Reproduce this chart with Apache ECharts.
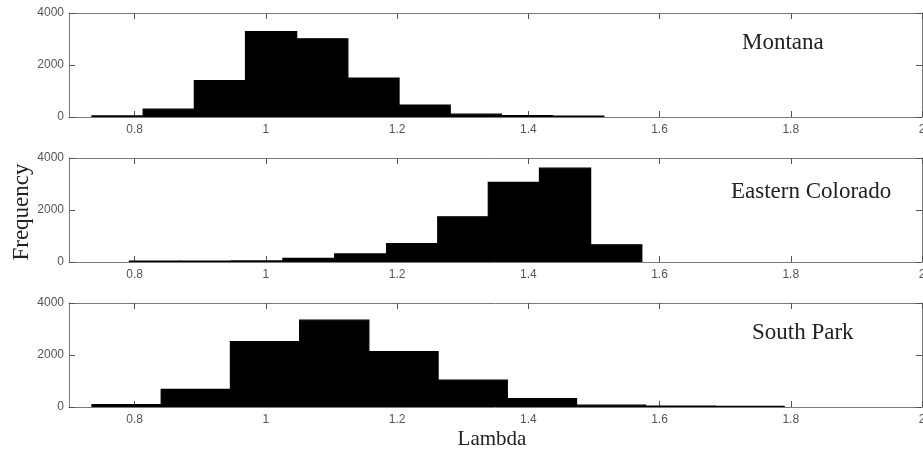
<!DOCTYPE html>
<html>
<head>
<meta charset="utf-8">
<script src="https://cdn.jsdelivr.net/npm/echarts@6/dist/echarts.min.js"></script>
<style>
html,body{margin:0;padding:0;background:#fff;}
#chart{width:923px;height:451px;}
</style>
</head>
<body>
<div id="chart"></div>
<script>
// ---- data ----
const regions = ['Montana', 'Eastern Colorado', 'South Park'];

const montanaEdges = [0.735, 0.813, 0.891, 0.969, 1.047, 1.125, 1.203, 1.281, 1.359, 1.437, 1.515];
const montanaCounts = [40, 300, 1400, 3280, 3010, 1500, 460, 110, 50, 30];

const coloradoEdges = [0.792, 0.870, 0.948, 1.026, 1.105, 1.184, 1.262, 1.339, 1.417, 1.495, 1.573];
const coloradoCounts = [30, 30, 40, 140, 310, 710, 1740, 3060, 3610, 660];

const southParkEdges = [0.735, 0.8405, 0.946, 1.0515, 1.157, 1.2625, 1.368, 1.4735, 1.579, 1.6845, 1.790];
const southParkCounts = [90, 680, 2520, 3340, 2130, 1030, 320, 70, 30, 25];

const xTicks = [0.8, 1, 1.2, 1.4, 1.6, 1.8, 2];
const yTicks = [0, 2000, 4000];
const xMin = 0.7, xMax = 2.0;
const yMin = 0, yMax = 4000;

const xTitle = 'Lambda';
const yTitle = 'Frequency';

// ---- layout ----
const panelTops = [13, 158, 303];
const panelHeight = 104;
const gridLeft = 69;
const gridRight = 1;

const edgeSets = [montanaEdges, coloradoEdges, southParkEdges];
const countSets = [montanaCounts, coloradoCounts, southParkCounts];

const axisColor = '#7a7a7a';
const labelColor = '#555';
const serif = '"Liberation Serif", "DejaVu Serif", serif';
const sans = '"Liberation Sans", Arial, sans-serif';

function fmtX(v) { return String(Math.round(v * 10) / 10); }
function fmtY(v) { return String(Math.round(v)); }

const grids = [], xAxes = [], yAxes = [], series = [], titles = [];
const titlePos = [[742, 31], [731, 180], [752, 321]];

panelTops.forEach((top, i) => {
  grids.push({ left: gridLeft, right: gridRight, top: top, height: panelHeight,
               containLabel: false, outerBoundsMode: 'none' });
  xAxes.push({
    type: 'value', gridIndex: i, position: 'bottom', min: xMin, max: xMax,
    splitLine: { show: false },
    axisLine: { show: true, onZero: false, lineStyle: { color: axisColor, width: 1 } },
    axisTick: { show: true, inside: true, length: 6, customValues: xTicks, lineStyle: { color: '#555' } },
    axisLabel: { show: true, customValues: xTicks, formatter: fmtX, color: labelColor, fontFamily: sans, fontSize: 12, margin: 7 }
  });
  xAxes.push({
    type: 'value', gridIndex: i, position: 'top', min: xMin, max: xMax,
    splitLine: { show: false },
    axisLine: { show: true, onZero: false, lineStyle: { color: axisColor, width: 1 } },
    axisTick: { show: true, inside: true, length: 6, customValues: xTicks, lineStyle: { color: '#555' } },
    axisLabel: { show: false }
  });
  yAxes.push({
    type: 'value', gridIndex: i, position: 'left', min: yMin, max: yMax,
    splitLine: { show: false },
    axisLine: { show: true, onZero: false, lineStyle: { color: axisColor, width: 1 } },
    axisTick: { show: true, inside: true, length: 6, customValues: yTicks, lineStyle: { color: '#555' } },
    axisLabel: { show: true, customValues: yTicks, formatter: fmtY, color: labelColor, fontFamily: sans, fontSize: 12, margin: 5 }
  });
  yAxes.push({
    type: 'value', gridIndex: i, position: 'right', min: yMin, max: yMax,
    splitLine: { show: false },
    axisLine: { show: true, onZero: false, lineStyle: { color: axisColor, width: 1 } },
    axisTick: { show: true, inside: true, length: 6, customValues: yTicks, lineStyle: { color: '#555' } },
    axisLabel: { show: false }
  });

  const edges = edgeSets[i], counts = countSets[i];
  const data = counts.map((c, k) => [edges[k], edges[k + 1], c]);
  series.push({
    type: 'custom', xAxisIndex: 2 * i, yAxisIndex: 2 * i, data: data,
    clip: true, silent: true,
    renderItem: function (params, api) {
      const p0 = api.coord([api.value(0), api.value(2)]);
      const p1 = api.coord([api.value(1), 0]);
      return {
        type: 'rect',
        shape: { x: p0[0], y: p0[1], width: p1[0] - p0[0], height: p1[1] - p0[1] },
        style: { fill: '#000', stroke: '#000', lineWidth: 1.2 }
      };
    },
    encode: { x: [0, 1], y: 2 }
  });

  titles.push({
    text: regions[i], left: titlePos[i][0], top: titlePos[i][1], padding: 0,
    textStyle: { fontFamily: serif, fontSize: 23, fontWeight: 'normal', color: '#222' }
  });
});

const chart = echarts.init(document.getElementById('chart'), null, { renderer: 'canvas' });
chart.setOption({
  animation: false,
  backgroundColor: '#fff',
  title: titles,
  grid: grids,
  xAxis: xAxes,
  yAxis: yAxes,
  series: series,
  graphic: [
    { type: 'text', x: 22, y: 212, rotation: Math.PI / 2,
      style: { text: yTitle, font: '23px ' + serif, fill: '#222', align: 'center', verticalAlign: 'middle' } },
    { type: 'text', x: 492, y: 439,
      style: { text: xTitle, font: '21px ' + serif, fill: '#222', align: 'center', verticalAlign: 'middle' } }
  ]
});
</script>
</body>
</html>
